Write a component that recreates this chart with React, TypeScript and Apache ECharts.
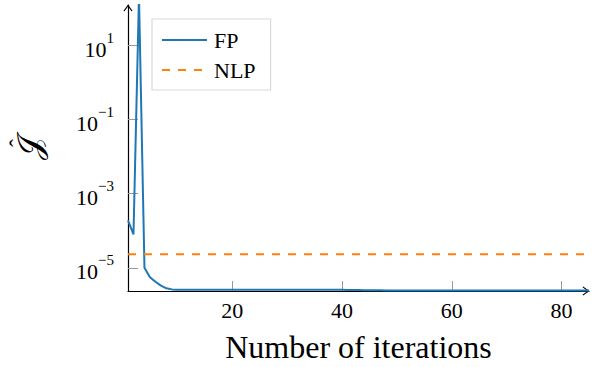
import React, { useEffect, useRef } from "react";
import * as echarts from "echarts";

// Iteration numbers (x axis)
const iterations: number[] = [
  1, 2, 3, 4, 5, 6, 7, 8, 9, 10,
  11, 12, 13, 14, 15, 16, 17, 18, 19, 20,
  21, 22, 23, 24, 25, 26, 27, 28, 29, 30,
  31, 32, 33, 34, 35, 36, 37, 38, 39, 40,
  41, 42, 43, 44, 45, 46, 47, 48, 49, 50,
  51, 52, 53, 54, 55, 56, 57, 58, 59, 60,
  61, 62, 63, 64, 65, 66, 67, 68, 69, 70,
  71, 72, 73, 74, 75, 76, 77, 78, 79, 80,
  81, 82, 83, 84, 85,
];

// FP objective values
const fpValues: number[] = [
  1.9e-4, 8.0e-5, 2.2e2, 1.0e-5, 5.6e-6, 4.2e-6, 3.3e-6, 2.8e-6, 2.62e-6, 2.57e-6,
  2.56e-6, 2.56e-6, 2.56e-6, 2.56e-6, 2.56e-6, 2.56e-6, 2.56e-6, 2.56e-6, 2.56e-6, 2.56e-6,
  2.56e-6, 2.56e-6, 2.56e-6, 2.56e-6, 2.56e-6, 2.56e-6, 2.56e-6, 2.56e-6, 2.56e-6, 2.56e-6,
  2.56e-6, 2.56e-6, 2.56e-6, 2.56e-6, 2.56e-6, 2.56e-6, 2.56e-6, 2.56e-6, 2.55e-6, 2.55e-6,
  2.54e-6, 2.53e-6, 2.52e-6, 2.5e-6, 2.49e-6, 2.48e-6, 2.47e-6, 2.46e-6, 2.45e-6, 2.45e-6,
  2.45e-6, 2.45e-6, 2.45e-6, 2.45e-6, 2.45e-6, 2.45e-6, 2.45e-6, 2.45e-6, 2.45e-6, 2.45e-6,
  2.45e-6, 2.45e-6, 2.45e-6, 2.45e-6, 2.45e-6, 2.45e-6, 2.45e-6, 2.45e-6, 2.45e-6, 2.45e-6,
  2.45e-6, 2.45e-6, 2.45e-6, 2.45e-6, 2.45e-6, 2.45e-6, 2.45e-6, 2.45e-6, 2.45e-6, 2.45e-6,
  2.45e-6, 2.45e-6, 2.45e-6, 2.45e-6, 2.45e-6,
];

// NLP reference value (constant)
const nlpValue = 2.33e-5;

// Axis ticks
const xTicks: number[] = [20, 40, 60, 80];
const yTicks: number[] = [1e-5, 1e-3, 1e-1, 1e1];

const seriesNames = ["FP", "NLP"];
const xLabel = "Number of iterations";
const yLabelHat = "\u02C6";
const yLabelSym = "\u{1D4A5}";

const SERIF = "'Liberation Serif', 'DejaVu Serif', serif";
const ARROW = "path://M5,0 L10,7 L9.1,7.7 L5,2.2 L0.9,7.7 L0,7 Z";

export default function App() {
  const ref = useRef<HTMLDivElement>(null);
  useEffect(() => {
    if (!ref.current) return;
    const chart = echarts.init(ref.current, undefined, { renderer: "svg" });
    const xMin = iterations[0];
    const xMax = iterations[iterations.length - 1];
    const supText = (v: number) => {
      const e = Math.round(Math.log10(v));
      return `{b|10}{e|${e < 0 ? "\u2212" + -e : e}}`;
    };
    chart.setOption({
      animation: false,
      backgroundColor: "#ffffff",
      grid: {
        left: 128,
        right: 12,
        top: 5,
        bottom: 76,
        containLabel: false,
        outerBoundsMode: "none",
      },
      legend: {
        orient: "vertical",
        left: 152,
        top: 19,
        padding: [10, 15, 9, 9],
        itemWidth: 45,
        itemHeight: 14,
        itemGap: 8,
        borderColor: "#d9d9d9",
        borderWidth: 1.2,
        selectedMode: false,
        itemStyle: { opacity: 0 },
        textStyle: { fontFamily: SERIF, fontSize: 22, color: "#000", padding: [0, 0, 0, 2] },
        data: seriesNames,
      },
      xAxis: {
        type: "value",
        min: xMin,
        max: xMax,
        name: xLabel,
        nameLocation: "middle",
        nameGap: 40,
        nameTextStyle: { fontFamily: SERIF, fontSize: 32, color: "#000", lineHeight: 32 },
        axisLine: {
          show: true,
          lineStyle: { color: "#000", width: 1.2 },
          symbol: ["none", ARROW],
          symbolSize: [9, 7],
          symbolOffset: [0, -3],
        },
        axisTick: {
          show: true,
          inside: true,
          length: 10,
          lineStyle: { color: "#999", width: 1 },
          customValues: xTicks,
        },
        axisLabel: {
          fontFamily: SERIF,
          fontSize: 22,
          color: "#000",
          margin: 8,
          customValues: xTicks,
        },
        splitLine: { show: false },
      },
      yAxis: {
        type: "log",
        min: 2.37e-6,
        max: 124,
        name: `{h|${yLabelHat}}\n{j|${yLabelSym}}`,
        nameLocation: "middle",
        nameRotate: 90,
        nameGap: 92,
        nameTextStyle: {
          color: "#000",
          align: "center",
          rich: {
            h: { fontFamily: SERIF, fontSize: 24, lineHeight: 8, color: "#000", padding: [0, 0, 0, 10] },
            j: { fontFamily: "'DejaVu Serif', serif", fontSize: 34, lineHeight: 14, color: "#000" },
          },
        },
        axisLine: {
          show: true,
          lineStyle: { color: "#000", width: 1.2 },
          symbol: ["none", ARROW],
          symbolSize: [9, 7],
          symbolOffset: [0, -3],
        },
        axisTick: {
          show: true,
          inside: true,
          length: 10,
          lineStyle: { color: "#999", width: 1 },
          customValues: yTicks,
        },
        axisLabel: {
          margin: 14,
          customValues: yTicks,
          formatter: (v: number) => supText(v),
          rich: {
            b: { fontFamily: SERIF, fontSize: 22, color: "#000", lineHeight: 30, verticalAlign: "bottom" },
            e: { fontFamily: SERIF, fontSize: 15, color: "#000", lineHeight: 15, verticalAlign: "top" },
          },
        },
        splitLine: { show: false },
        minorTick: { show: false },
      },
      series: [
        {
          name: seriesNames[0],
          type: "line",
          data: iterations.map((x, i) => [x, fpValues[i]]),
          showSymbol: false,
          symbol: "none",
          color: "#1f77b4",
          lineStyle: { color: "#1f77b4", width: 2 },
          clip: true,
        },
        {
          name: seriesNames[1],
          type: "line",
          data: [
            [xMin, nlpValue],
            [xMax, nlpValue],
          ],
          showSymbol: false,
          symbol: "none",
          color: "#ff7f0e",
          lineStyle: { color: "#ff7f0e", width: 2, type: [8, 8] },
          clip: true,
        },
      ],
    });
    return () => chart.dispose();
  }, []);
  return (
    <div
      ref={ref}
      style={{ position: "fixed", left: 0, top: 0, width: 601, height: 367, background: "#fff" }}
    />
  );
}
